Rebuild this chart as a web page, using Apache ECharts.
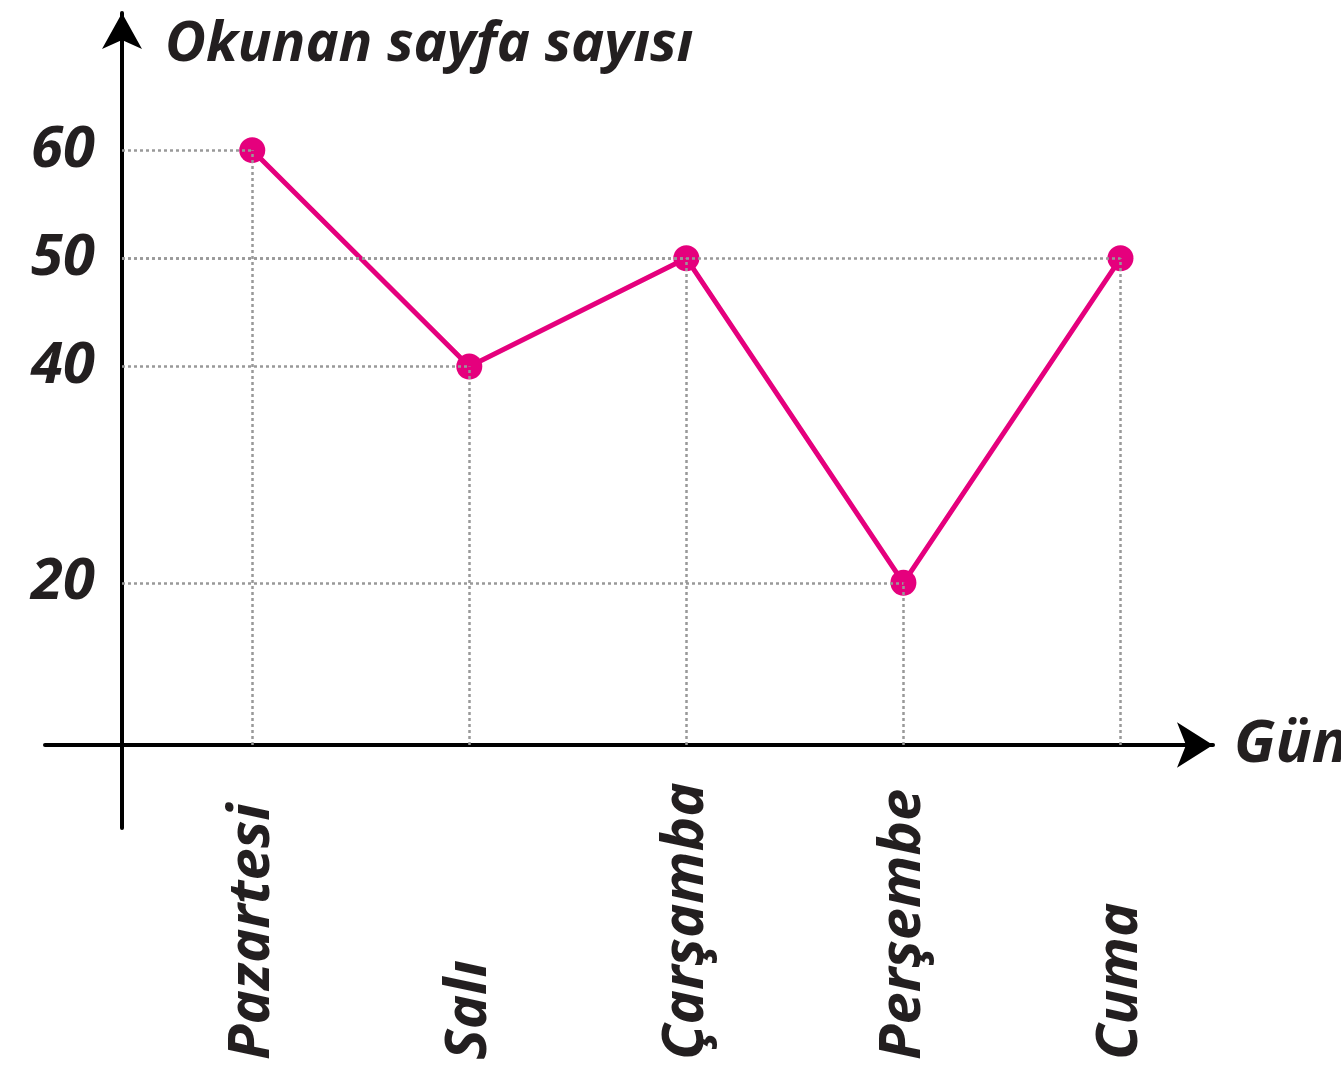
<!DOCTYPE html>
<html>
<head>
<meta charset="utf-8">
<script src="https://cdn.jsdelivr.net/npm/echarts@6/dist/echarts.min.js"></script>
<style>
  html, body { margin: 0; padding: 0; background: #fff; }
  #chart { width: 1341px; height: 1071px; }
</style>
</head>
<body>
<div id="chart"></div>
<script>
// günler ve okunan sayfa sayıları
const days = ['Pazartesi', 'Salı', 'Çarşamba', 'Perşembe', 'Cuma'];
const pages = [60, 40, 50, 20, 50];
const yTicks = [20, 40, 50, 60];

const ink = '#231f20';
const pink = '#e5007d';
const font = 'Noto Sans';

// eksen sınırları (gün sırası ve sayfa)
const xMin = -0.6, xMax = 4.5;
const yMin = 5, yMax = 70;

const points = days.map(function (d, i) { return [i, pages[i]]; });

// noktalardan eksenlere inen kesikli çizgiler
let guides = [];
points.forEach(function (p) {
  guides.push([{ coord: [p[0], yMin] }, { coord: p }]);
  guides.push([{ coord: [xMin, p[1]] }, { coord: p }]);
});

let myChart = echarts.init(document.getElementById('chart'));
let option = {
  animation: false,
  grid: [
    // veri alanı
    { left: 122, top: 42, width: 1107, height: 703, outerBoundsMode: 'none', containLabel: false },
    // eksen okları için
    { left: 45, top: 13, width: 1168, height: 815, outerBoundsMode: 'none', containLabel: false }
  ],
  xAxis: [
    {
      gridIndex: 0,
      type: 'value',
      min: xMin,
      max: xMax,
      axisLine: { show: false },
      axisTick: { show: false },
      splitLine: { show: false },
      axisLabel: {
        customValues: days.map(function (d, i) { return i; }),
        formatter: function (v) { return days[Math.round(v)]; },
        rotate: 90,
        align: 'left',
        verticalAlign: 'middle',
        margin: 315,
        color: ink,
        fontFamily: font,
        fontStyle: 'italic',
        fontWeight: 'bold',
        fontSize: 58
      }
    },
    {
      gridIndex: 1,
      type: 'value',
      min: 0,
      max: 1,
      offset: -83,
      name: 'Gün',
      nameLocation: 'end',
      nameGap: 21,
      nameTextStyle: { color: ink, fontFamily: font, fontStyle: 'italic', fontWeight: 'bold', fontSize: 60 },
      axisLine: {
        onZero: false,
        symbol: ['none', 'arrow'],
        symbolSize: [34, 36],
        lineStyle: { color: '#000', width: 4 }
      },
      axisTick: { show: false },
      axisLabel: { show: false },
      splitLine: { show: false }
    }
  ],
  yAxis: [
    {
      gridIndex: 0,
      type: 'value',
      min: yMin,
      max: yMax,
      axisLine: { show: false },
      axisTick: { show: false },
      splitLine: { show: false },
      axisLabel: {
        customValues: yTicks,
        margin: 27,
        color: ink,
        fontFamily: font,
        fontStyle: 'italic',
        fontWeight: 'bold',
        fontSize: 58
      }
    },
    {
      gridIndex: 1,
      type: 'value',
      min: 0,
      max: 1,
      offset: -77,
      name: 'Okunan sayfa sayısı',
      nameLocation: 'end',
      nameGap: -32,
      nameTextStyle: {
        color: ink, fontFamily: font, fontStyle: 'italic', fontWeight: 'bold', fontSize: 56,
        align: 'left', verticalAlign: 'middle', padding: [0, 0, 0, 43]
      },
      axisLine: {
        onZero: false,
        symbol: ['none', 'arrow'],
        symbolSize: [30, 36],
        lineStyle: { color: '#000', width: 4 }
      },
      axisTick: { show: false },
      axisLabel: { show: false },
      splitLine: { show: false }
    }
  ],
  series: [
    {
      type: 'line',
      xAxisIndex: 0,
      yAxisIndex: 0,
      data: points,
      symbol: 'circle',
      symbolSize: 26,
      z: 3,
      lineStyle: { color: pink, width: 5 },
      itemStyle: { color: pink },
      markLine: {
        silent: true,
        symbol: ['none', 'none'],
        label: { show: false },
        lineStyle: { color: '#999', width: 2.5, type: [3, 3] },
        emphasis: { disabled: true },
        data: guides
      }
    }
  ]
};
myChart.setOption(option);
</script>
</body>
</html>
